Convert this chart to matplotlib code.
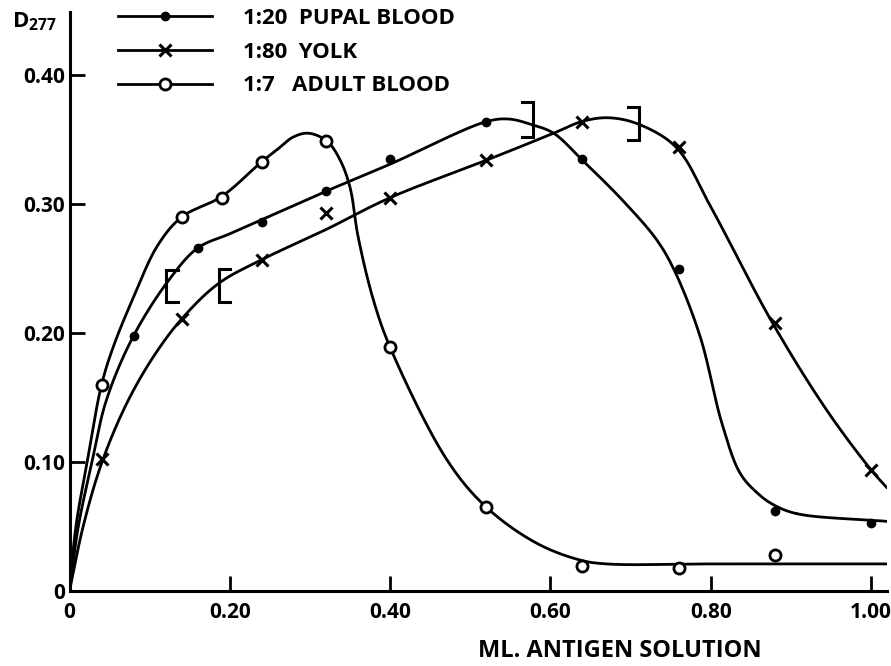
import numpy as np
import matplotlib
matplotlib.use("Agg")
import matplotlib.pyplot as plt

plt.rcParams['font.family'] = ['Open Sans', 'DejaVu Sans']
plt.rcParams['font.weight'] = 'bold'
plt.rcParams['mathtext.fontset'] = 'custom'
plt.rcParams['mathtext.bf'] = 'Open Sans:bold'
plt.rcParams['mathtext.default'] = 'bf'

# gemessene Punkte
pupal_x = [0.08, 0.16, 0.24, 0.32, 0.40, 0.52, 0.64, 0.76, 0.88, 1.00]
pupal_y = [0.198, 0.266, 0.286, 0.310, 0.335, 0.364, 0.335, 0.250, 0.062, 0.053]

yolk_x = [0.04, 0.14, 0.24, 0.32, 0.40, 0.52, 0.64, 0.76, 0.88, 1.00]
yolk_y = [0.102, 0.211, 0.257, 0.293, 0.305, 0.334, 0.364, 0.344, 0.208, 0.094]

adult_x = [0.04, 0.14, 0.19, 0.24, 0.32, 0.40, 0.52, 0.64, 0.76, 0.88]
adult_y = [0.160, 0.290, 0.305, 0.333, 0.349, 0.189, 0.065, 0.019, 0.018, 0.028]

# von Hand gezeichnete Kurven
pupal_cx = [0, 0.011, 0.028, 0.046, 0.08, 0.125, 0.16, 0.20, 0.24, 0.32, 0.40,
            0.52, 0.548, 0.575, 0.604, 0.64, 0.69, 0.733, 0.7555, 0.787, 0.814,
            0.837, 0.86, 0.878, 0.907, 1.02]
pupal_cy = [0, 0.05, 0.10, 0.148, 0.198, 0.242, 0.266, 0.277, 0.288, 0.310, 0.331,
            0.364, 0.366, 0.362, 0.355, 0.334, 0.303, 0.272, 0.2475, 0.197, 0.130,
            0.091, 0.075, 0.067, 0.060, 0.054]

yolk_cx = [0, 0.017, 0.04, 0.071, 0.105, 0.14, 0.186, 0.24, 0.319, 0.40, 0.52, 0.604,
           0.639, 0.672, 0.71, 0.757, 0.80, 0.877, 0.945, 1.00, 1.02]
yolk_cy = [0, 0.05, 0.099, 0.145, 0.182, 0.211, 0.2385, 0.257, 0.280, 0.305, 0.334, 0.355,
           0.364, 0.367, 0.362, 0.344, 0.298, 0.208, 0.140, 0.094, 0.080]

adult_cx = [0, 0.008, 0.022, 0.04, 0.055, 0.08, 0.11, 0.14, 0.19, 0.24, 0.2585,
            0.279, 0.298, 0.321, 0.337, 0.350, 0.360, 0.379, 0.40, 0.471, 0.52,
            0.583, 0.637, 0.67, 0.80, 1.02]
adult_cy = [0, 0.05, 0.10, 0.160, 0.190, 0.228, 0.268, 0.290, 0.306, 0.333, 0.342,
            0.352, 0.355, 0.349, 0.335, 0.313, 0.275, 0.226, 0.189, 0.1016, 0.065,
            0.037, 0.024, 0.021, 0.021, 0.021]

# Klammern
bracket_x = [0.121, 0.186, 0.578, 0.7105]
bracket_lo = [0.224, 0.224, 0.352, 0.350]
bracket_hi = [0.249, 0.250, 0.379, 0.375]
bracket_dir = [1, 1, -1, -1]

labels = ['1:20  PUPAL BLOOD', '1:80  YOLK', '1:7   ADULT BLOOD']
xticks = [0, 0.2, 0.4, 0.6, 0.8, 1.0]
xticklabels = ['0', '0.20', '0.40', '0.60', '0.80', '1.00']
yticks = [0, 0.1, 0.2, 0.3, 0.4]
yticklabels = ['0', '0.10', '0.20', '0.30', '0.40']


def smooth(xs, ys, n=24, sx=801.5, sy=1290.0):
    # centripetal Catmull-Rom, nur fuer die Darstellung
    p = np.column_stack([np.array(xs) * sx, np.array(ys) * sy])
    p = np.vstack([2 * p[0] - p[1], p, 2 * p[-1] - p[-2]])
    out = []
    for i in range(1, len(p) - 2):
        p0, p1, p2, p3 = p[i - 1], p[i], p[i + 1], p[i + 2]
        t0 = 0.0
        t1 = t0 + np.linalg.norm(p1 - p0) ** 0.5
        t2 = t1 + np.linalg.norm(p2 - p1) ** 0.5
        t3 = t2 + np.linalg.norm(p3 - p2) ** 0.5
        t = np.linspace(t1, t2, n)[:, None]
        a1 = (t1 - t) / (t1 - t0) * p0 + (t - t0) / (t1 - t0) * p1
        a2 = (t2 - t) / (t2 - t1) * p1 + (t - t1) / (t2 - t1) * p2
        a3 = (t3 - t) / (t3 - t2) * p2 + (t - t2) / (t3 - t2) * p3
        b1 = (t2 - t) / (t2 - t0) * a1 + (t - t0) / (t2 - t0) * a2
        b2 = (t3 - t) / (t3 - t1) * a2 + (t - t1) / (t3 - t1) * a3
        c = (t2 - t) / (t2 - t1) * b1 + (t - t1) / (t2 - t1) * b2
        out.append(c)
    c = np.vstack(out)
    return c[:, 0] / sx, c[:, 1] / sy


fig = plt.figure(figsize=(8.91, 6.66), dpi=100)
ax = fig.add_axes([69.5 / 891, 1 - 591 / 666, (1.02 * 801.5) / 891, 579 / 666])

lw = 2.0
for cx, cy in [(pupal_cx, pupal_cy), (yolk_cx, yolk_cy), (adult_cx, adult_cy)]:
    sx_, sy_ = smooth(cx, cy)
    ax.plot(sx_, sy_, color='black', lw=lw, solid_capstyle='round', zorder=2)

ax.plot(pupal_x, pupal_y, 'o', color='black', ms=6, zorder=3)
ax.plot(yolk_x, yolk_y, 'x', color='black', ms=9, mew=2.2, zorder=3)
ax.plot(adult_x, adult_y, 'o', color='black', mfc='white', ms=8, mew=2.0, zorder=3)

# Klammern zeichnen
arm = 0.014
for bx, lo, hi, d in zip(bracket_x, bracket_lo, bracket_hi, bracket_dir):
    ax.plot([bx + d * arm, bx, bx, bx + d * arm], [lo, lo, hi, hi],
            color='black', lw=2.2, solid_joinstyle='miter', zorder=2)

# Legende
h1, = ax.plot([], [], '-o', color='black', ms=6, lw=lw)
h2, = ax.plot([], [], '-x', color='black', ms=9, mew=2.2, lw=lw)
h3, = ax.plot([], [], '-o', color='black', mfc='white', ms=8, mew=2.0, lw=lw)
ax.legend([h1, h2, h3], labels, loc='upper left', bbox_to_anchor=(118 / 891, 1 - 8 / 666),
          bbox_transform=fig.transFigure, frameon=False, fontsize=16, handlelength=4.23,
          handletextpad=1.4, labelspacing=0.57, borderpad=0, borderaxespad=0)

ax.set_xlim(0, 1.02)
ax.set_ylim(0, 0.449)
ax.spines['top'].set_visible(False)
ax.spines['right'].set_visible(False)
ax.spines['left'].set_linewidth(2.2)
ax.spines['bottom'].set_linewidth(2.2)

ax.set_xticks(xticks)
ax.set_xticklabels(xticklabels)
ax.set_yticks(yticks)
ax.set_yticklabels(yticklabels)
ax.tick_params(axis='both', direction='in', length=10.5, width=2.0, labelsize=15)
ax.tick_params(axis='x', pad=8)
ax.tick_params(axis='y', pad=3)

ax.set_xlabel('ML. ANTIGEN SOLUTION', fontsize=17, fontweight='bold')
ax.xaxis.set_label_coords(0.687 / 1.02, -0.083)

fig.text(12 / 891, 1 - 22 / 666, r'D$_{277}$', fontsize=16, fontweight='bold', va='center')

fig.savefig('out.png', dpi=100)
